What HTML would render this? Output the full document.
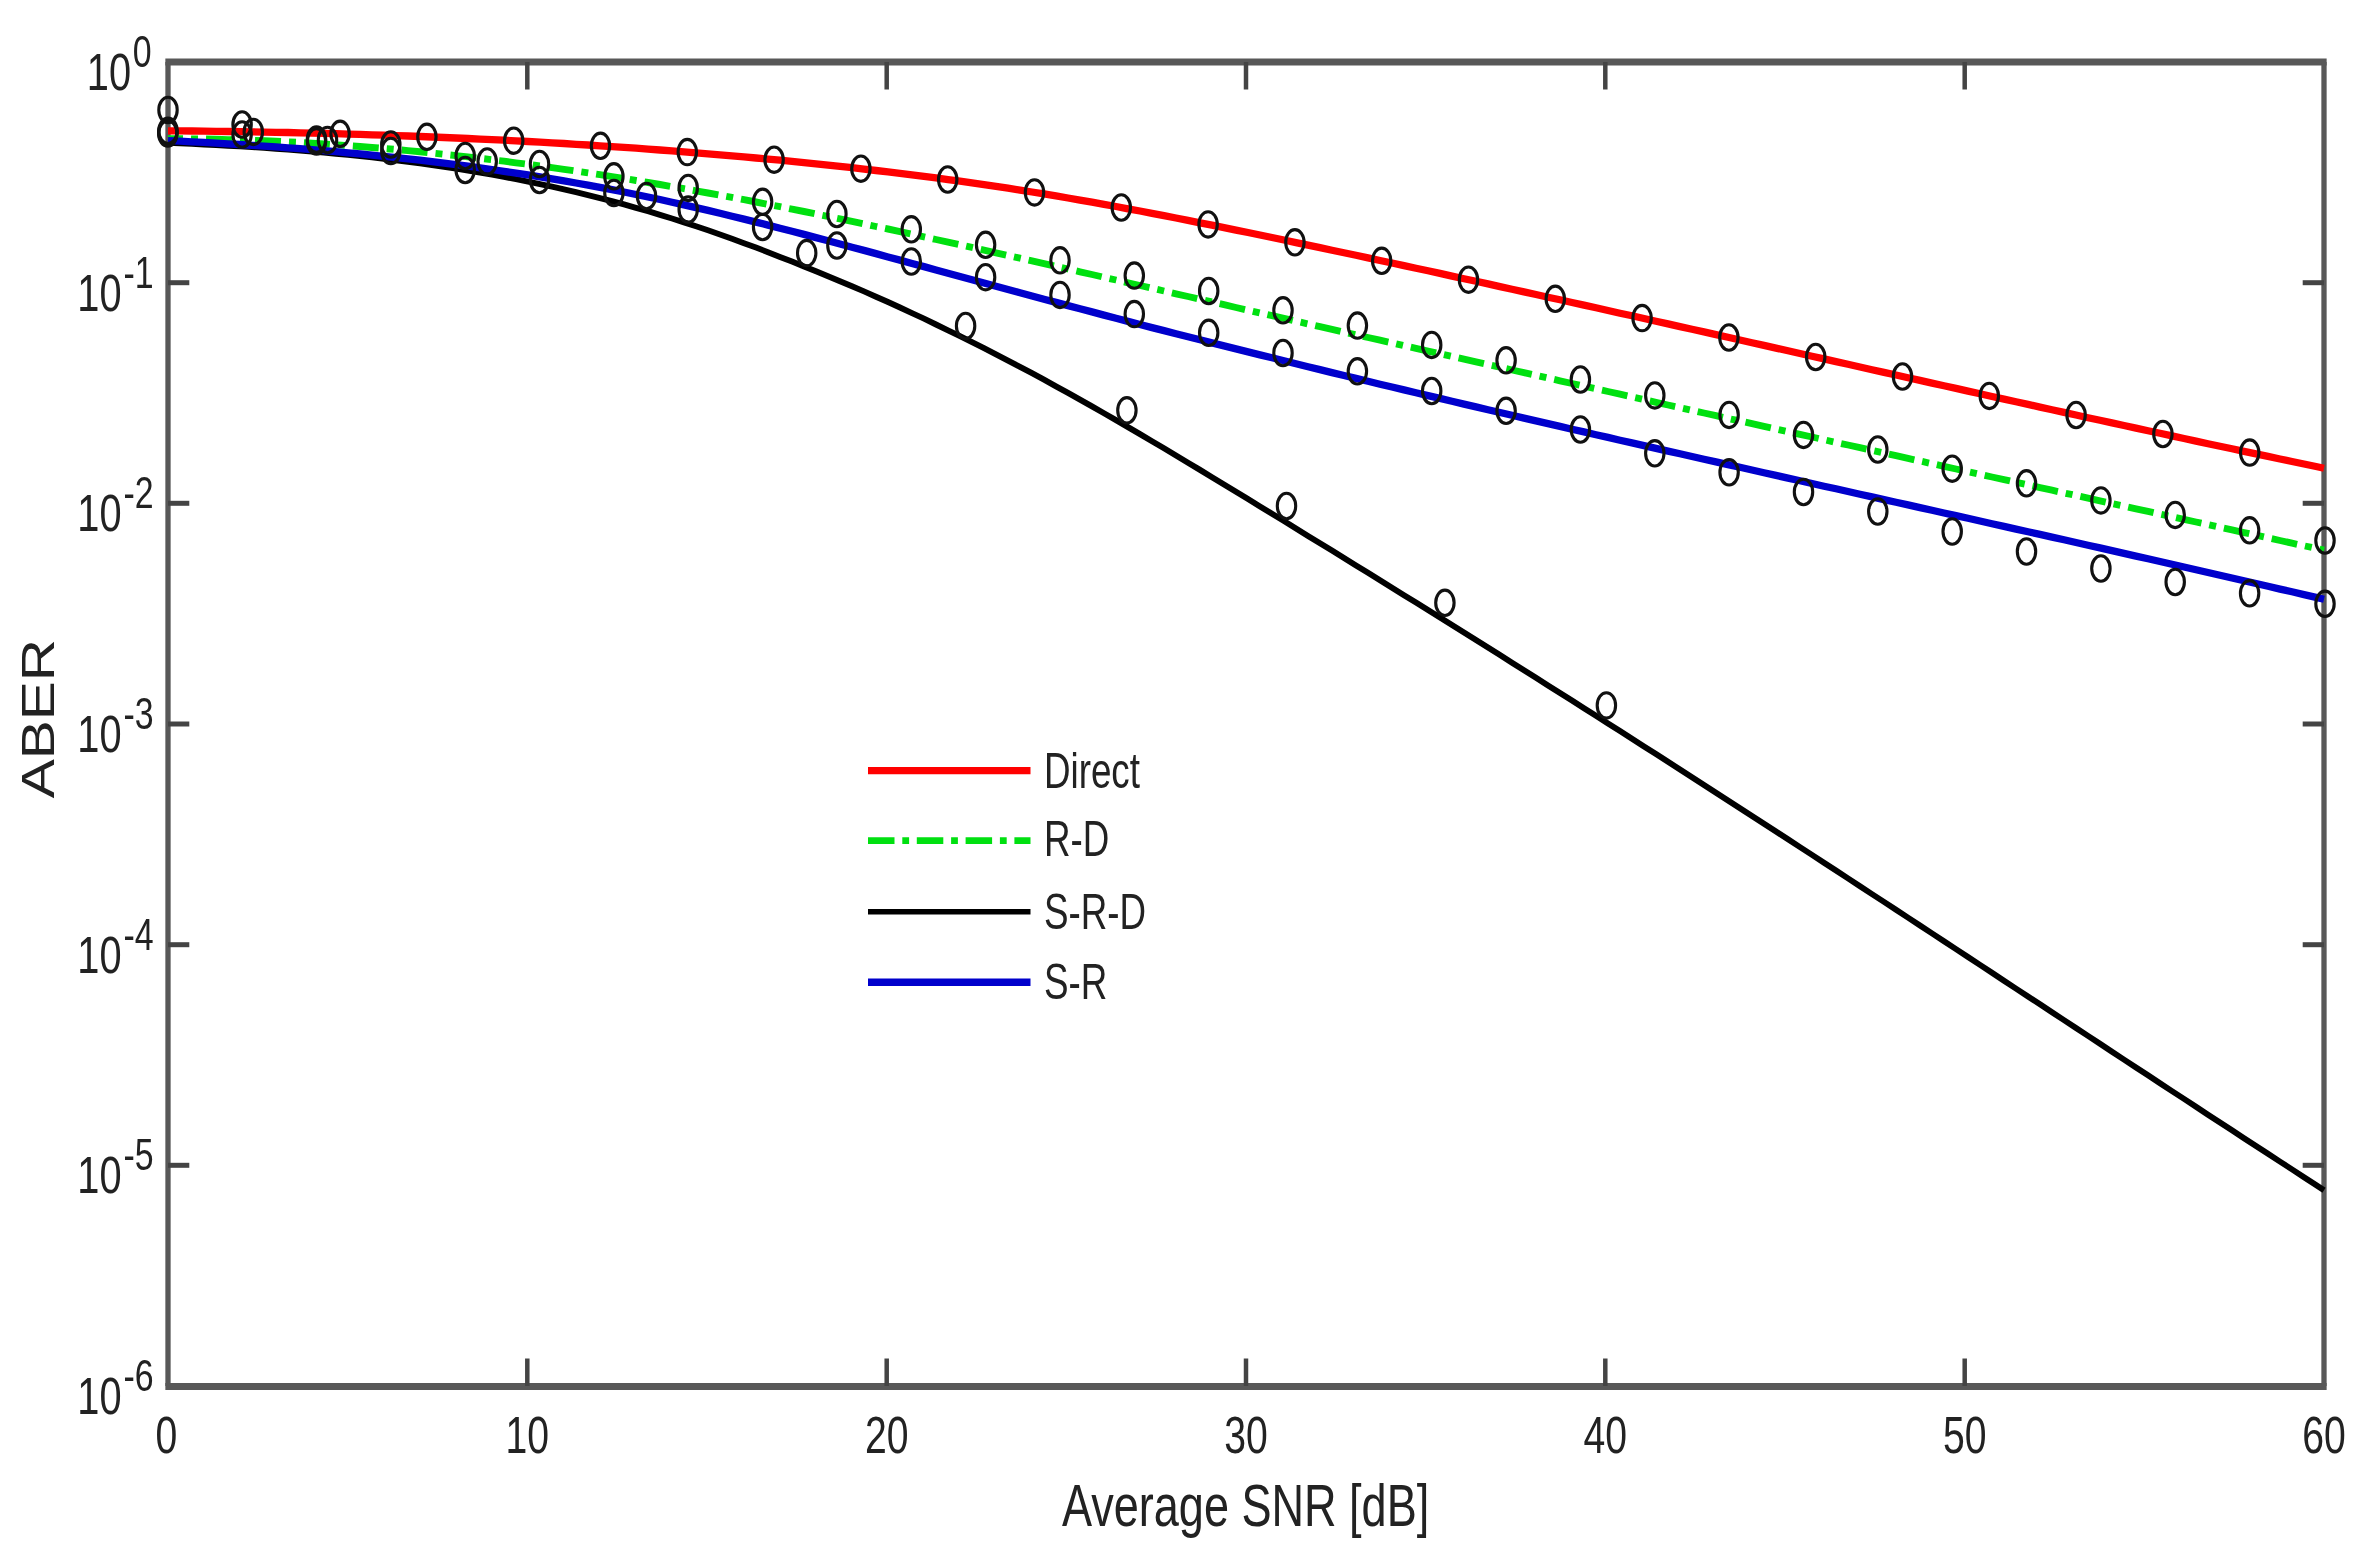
<!DOCTYPE html>
<html lang="en"><head><meta charset="utf-8"><title>ABER versus Average SNR</title>
<style>html,body{margin:0;padding:0;background:#fff;}body{width:2360px;height:1560px;overflow:hidden;}svg{display:block;filter:blur(0.6px);}text{font-family:"Liberation Sans",sans-serif;fill:#222222;}</style>
</head><body>
<svg width="2360" height="1560" viewBox="0 0 2360 1560">
<rect x="0" y="0" width="2360" height="1560" fill="#ffffff"/>
<g stroke="#585858" fill="none">
<line x1="165.35" y1="62.0" x2="2326.65" y2="62.0" stroke-width="7"/>
<line x1="165.35" y1="1386.4" x2="2326.65" y2="1386.4" stroke-width="7"/>
<line x1="168.0" y1="62.0" x2="168.0" y2="1386.0" stroke-width="5.3"/>
<line x1="2324.0" y1="62.0" x2="2324.0" y2="1386.0" stroke-width="5.3"/>
</g>
<g stroke="#444444" fill="none">
<line x1="527.3" y1="1386.0" x2="527.3" y2="1358.5" stroke-width="4.5"/>
<line x1="527.3" y1="62.0" x2="527.3" y2="89.5" stroke-width="4.5"/>
<line x1="886.7" y1="1386.0" x2="886.7" y2="1358.5" stroke-width="4.5"/>
<line x1="886.7" y1="62.0" x2="886.7" y2="89.5" stroke-width="4.5"/>
<line x1="1246.0" y1="1386.0" x2="1246.0" y2="1358.5" stroke-width="4.5"/>
<line x1="1246.0" y1="62.0" x2="1246.0" y2="89.5" stroke-width="4.5"/>
<line x1="1605.3" y1="1386.0" x2="1605.3" y2="1358.5" stroke-width="4.5"/>
<line x1="1605.3" y1="62.0" x2="1605.3" y2="89.5" stroke-width="4.5"/>
<line x1="1964.7" y1="1386.0" x2="1964.7" y2="1358.5" stroke-width="4.5"/>
<line x1="1964.7" y1="62.0" x2="1964.7" y2="89.5" stroke-width="4.5"/>
<line x1="168.0" y1="282.7" x2="189.3" y2="282.7" stroke-width="5"/>
<line x1="2324.0" y1="282.7" x2="2302.7" y2="282.7" stroke-width="5"/>
<line x1="168.0" y1="503.3" x2="189.3" y2="503.3" stroke-width="5"/>
<line x1="2324.0" y1="503.3" x2="2302.7" y2="503.3" stroke-width="5"/>
<line x1="168.0" y1="724.0" x2="189.3" y2="724.0" stroke-width="5"/>
<line x1="2324.0" y1="724.0" x2="2302.7" y2="724.0" stroke-width="5"/>
<line x1="168.0" y1="944.7" x2="189.3" y2="944.7" stroke-width="5"/>
<line x1="2324.0" y1="944.7" x2="2302.7" y2="944.7" stroke-width="5"/>
<line x1="168.0" y1="1165.3" x2="189.3" y2="1165.3" stroke-width="5"/>
<line x1="2324.0" y1="1165.3" x2="2302.7" y2="1165.3" stroke-width="5"/>
</g>
<g fill="none" stroke-linejoin="round">
<path d="M168.0,130.8 L180.0,130.9 L192.0,131.0 L204.0,131.1 L216.0,131.3 L228.0,131.5 L240.0,131.6 L252.0,131.8 L264.0,132.1 L276.0,132.3 L288.0,132.5 L300.0,132.8 L312.0,133.1 L324.0,133.4 L336.0,133.7 L348.0,134.1 L360.0,134.4 L372.0,134.8 L384.0,135.2 L396.0,135.6 L408.0,136.0 L420.0,136.5 L432.0,137.0 L444.0,137.5 L456.0,138.0 L468.0,138.5 L480.0,139.1 L492.0,139.6 L504.0,140.2 L516.0,140.8 L528.0,141.5 L540.0,142.1 L552.0,142.8 L564.0,143.5 L576.0,144.3 L588.0,145.0 L600.0,145.8 L612.0,146.6 L624.0,147.4 L636.0,148.2 L648.0,149.1 L660.0,150.0 L672.0,150.9 L684.0,151.8 L696.0,152.8 L708.0,153.8 L720.0,154.8 L732.0,155.8 L744.0,156.9 L756.0,158.0 L768.0,159.1 L780.0,160.2 L792.0,161.4 L804.0,162.6 L816.0,163.8 L828.0,165.1 L840.0,166.4 L852.0,167.7 L864.0,169.1 L876.0,170.5 L888.0,171.9 L900.0,173.3 L912.0,174.8 L924.0,176.4 L936.0,177.9 L948.0,179.6 L960.0,181.2 L972.0,182.9 L984.0,184.6 L996.0,186.4 L1008.0,188.2 L1020.0,190.1 L1032.0,192.0 L1044.0,193.9 L1056.0,195.9 L1068.0,198.0 L1080.0,200.1 L1092.0,202.2 L1104.0,204.3 L1116.0,206.5 L1128.0,208.8 L1140.0,211.0 L1152.0,213.3 L1164.0,215.6 L1176.0,218.0 L1188.0,220.4 L1200.0,222.8 L1212.0,225.2 L1224.0,227.6 L1236.0,230.1 L1248.0,232.5 L1260.0,235.0 L1272.0,237.5 L1284.0,240.0 L1296.0,242.6 L1308.0,245.1 L1320.0,247.6 L1332.0,250.2 L1344.0,252.7 L1356.0,255.3 L1368.0,257.9 L1380.0,260.5 L1392.0,263.0 L1404.0,265.6 L1416.0,268.2 L1428.0,270.8 L1440.0,273.4 L1452.0,276.1 L1464.0,278.7 L1476.0,281.3 L1488.0,283.9 L1500.0,286.6 L1512.0,289.2 L1524.0,291.9 L1536.0,294.5 L1548.0,297.2 L1560.0,299.8 L1572.0,302.5 L1584.0,305.1 L1596.0,307.8 L1608.0,310.5 L1620.0,313.2 L1632.0,315.8 L1644.0,318.5 L1656.0,321.2 L1668.0,323.9 L1680.0,326.6 L1692.0,329.3 L1704.0,331.9 L1716.0,334.6 L1728.0,337.3 L1740.0,340.0 L1752.0,342.7 L1764.0,345.4 L1776.0,348.1 L1788.0,350.8 L1800.0,353.5 L1812.0,356.2 L1824.0,358.9 L1836.0,361.6 L1848.0,364.3 L1860.0,367.0 L1872.0,369.7 L1884.0,372.4 L1896.0,375.0 L1908.0,377.7 L1920.0,380.4 L1932.0,383.1 L1944.0,385.8 L1956.0,388.4 L1968.0,391.1 L1980.0,393.8 L1992.0,396.5 L2004.0,399.1 L2016.0,401.8 L2028.0,404.4 L2040.0,407.1 L2052.0,409.7 L2064.0,412.4 L2076.0,415.0 L2088.0,417.7 L2100.0,420.3 L2112.0,422.9 L2124.0,425.5 L2136.0,428.1 L2148.0,430.7 L2160.0,433.3 L2172.0,435.9 L2184.0,438.5 L2196.0,441.1 L2208.0,443.7 L2220.0,446.2 L2232.0,448.8 L2244.0,451.4 L2256.0,453.9 L2268.0,456.4 L2280.0,459.0 L2292.0,461.5 L2304.0,464.0 L2316.0,466.5 L2324.0,468.2" stroke="#ff0000" stroke-width="7.3"/>
<path d="M168.0,138.7 L180.0,138.7 L192.0,138.9 L204.0,139.0 L216.0,139.3 L228.0,139.6 L240.0,139.9 L252.0,140.3 L264.0,140.8 L276.0,141.3 L288.0,141.9 L300.0,142.5 L312.0,143.2 L324.0,144.0 L336.0,144.8 L348.0,145.6 L360.0,146.5 L372.0,147.5 L384.0,148.5 L396.0,149.5 L408.0,150.6 L420.0,151.8 L432.0,153.0 L444.0,154.3 L456.0,155.6 L468.0,156.9 L480.0,158.3 L492.0,159.7 L504.0,161.2 L516.0,162.8 L528.0,164.3 L540.0,166.0 L552.0,167.6 L564.0,169.3 L576.0,171.1 L588.0,172.9 L600.0,174.7 L612.0,176.6 L624.0,178.5 L636.0,180.5 L648.0,182.5 L660.0,184.5 L672.0,186.6 L684.0,188.7 L696.0,190.8 L708.0,193.0 L720.0,195.2 L732.0,197.4 L744.0,199.7 L756.0,202.0 L768.0,204.4 L780.0,206.7 L792.0,209.1 L804.0,211.5 L816.0,214.0 L828.0,216.4 L840.0,218.9 L852.0,221.4 L864.0,223.9 L876.0,226.5 L888.0,229.0 L900.0,231.6 L912.0,234.2 L924.0,236.8 L936.0,239.5 L948.0,242.1 L960.0,244.7 L972.0,247.4 L984.0,250.1 L996.0,252.8 L1008.0,255.5 L1020.0,258.2 L1032.0,260.9 L1044.0,263.6 L1056.0,266.3 L1068.0,269.0 L1080.0,271.8 L1092.0,274.5 L1104.0,277.3 L1116.0,280.0 L1128.0,282.8 L1140.0,285.5 L1152.0,288.3 L1164.0,291.0 L1176.0,293.8 L1188.0,296.5 L1200.0,299.3 L1212.0,302.0 L1224.0,304.7 L1236.0,307.5 L1248.0,310.2 L1260.0,313.0 L1272.0,315.7 L1284.0,318.4 L1296.0,321.2 L1308.0,323.9 L1320.0,326.6 L1332.0,329.3 L1344.0,332.1 L1356.0,334.8 L1368.0,337.5 L1380.0,340.2 L1392.0,342.9 L1404.0,345.7 L1416.0,348.4 L1428.0,351.1 L1440.0,353.8 L1452.0,356.5 L1464.0,359.2 L1476.0,361.9 L1488.0,364.6 L1500.0,367.3 L1512.0,370.0 L1524.0,372.7 L1536.0,375.4 L1548.0,378.1 L1560.0,380.8 L1572.0,383.5 L1584.0,386.2 L1596.0,388.9 L1608.0,391.5 L1620.0,394.2 L1632.0,396.9 L1644.0,399.6 L1656.0,402.3 L1668.0,405.0 L1680.0,407.6 L1692.0,410.3 L1704.0,413.0 L1716.0,415.7 L1728.0,418.4 L1740.0,421.0 L1752.0,423.7 L1764.0,426.4 L1776.0,429.0 L1788.0,431.7 L1800.0,434.4 L1812.0,437.0 L1824.0,439.7 L1836.0,442.4 L1848.0,445.0 L1860.0,447.7 L1872.0,450.4 L1884.0,453.0 L1896.0,455.7 L1908.0,458.4 L1920.0,461.0 L1932.0,463.7 L1944.0,466.3 L1956.0,469.0 L1968.0,471.6 L1980.0,474.3 L1992.0,477.0 L2004.0,479.6 L2016.0,482.3 L2028.0,484.9 L2040.0,487.6 L2052.0,490.2 L2064.0,492.9 L2076.0,495.5 L2088.0,498.2 L2100.0,500.8 L2112.0,503.5 L2124.0,506.1 L2136.0,508.8 L2148.0,511.4 L2160.0,514.1 L2172.0,516.7 L2184.0,519.4 L2196.0,522.0 L2208.0,524.6 L2220.0,527.3 L2232.0,529.9 L2244.0,532.6 L2256.0,535.2 L2268.0,537.9 L2280.0,540.5 L2292.0,543.2 L2304.0,545.8 L2316.0,548.4 L2324.0,550.2" stroke="#00e010" stroke-width="6.9" stroke-dasharray="26 8 7 8" stroke-dashoffset="11"/>
<path d="M168.0,142.9 L180.0,143.4 L192.0,143.9 L204.0,144.5 L216.0,145.1 L228.0,145.7 L240.0,146.4 L252.0,147.1 L264.0,147.9 L276.0,148.7 L288.0,149.6 L300.0,150.6 L312.0,151.6 L324.0,152.6 L336.0,153.7 L348.0,154.9 L360.0,156.1 L372.0,157.4 L384.0,158.8 L396.0,160.3 L408.0,161.8 L420.0,163.4 L432.0,165.1 L444.0,166.8 L456.0,168.7 L468.0,170.6 L480.0,172.6 L492.0,174.7 L504.0,176.9 L516.0,179.2 L528.0,181.6 L540.0,184.1 L552.0,186.7 L564.0,189.4 L576.0,192.2 L588.0,195.1 L600.0,198.1 L612.0,201.2 L624.0,204.4 L636.0,207.8 L648.0,211.2 L660.0,214.8 L672.0,218.5 L684.0,222.4 L696.0,226.3 L708.0,230.3 L720.0,234.5 L732.0,238.8 L744.0,243.2 L756.0,247.6 L768.0,252.2 L780.0,256.9 L792.0,261.6 L804.0,266.4 L816.0,271.3 L828.0,276.2 L840.0,281.2 L852.0,286.3 L864.0,291.4 L876.0,296.7 L888.0,302.0 L900.0,307.5 L912.0,313.1 L924.0,318.7 L936.0,324.5 L948.0,330.3 L960.0,336.2 L972.0,342.2 L984.0,348.2 L996.0,354.4 L1008.0,360.6 L1020.0,366.9 L1032.0,373.2 L1044.0,379.7 L1056.0,386.3 L1068.0,392.9 L1080.0,399.6 L1092.0,406.4 L1104.0,413.2 L1116.0,420.1 L1128.0,427.1 L1140.0,434.1 L1152.0,441.2 L1164.0,448.3 L1176.0,455.5 L1188.0,462.7 L1200.0,469.9 L1212.0,477.2 L1224.0,484.5 L1236.0,491.8 L1248.0,499.1 L1260.0,506.4 L1272.0,513.8 L1284.0,521.1 L1296.0,528.5 L1308.0,535.9 L1320.0,543.2 L1332.0,550.6 L1344.0,558.0 L1356.0,565.4 L1368.0,572.8 L1380.0,580.3 L1392.0,587.7 L1404.0,595.2 L1416.0,602.6 L1428.0,610.1 L1440.0,617.6 L1452.0,625.1 L1464.0,632.6 L1476.0,640.1 L1488.0,647.6 L1500.0,655.1 L1512.0,662.7 L1524.0,670.2 L1536.0,677.8 L1548.0,685.4 L1560.0,693.0 L1572.0,700.6 L1584.0,708.2 L1596.0,715.8 L1608.0,723.5 L1620.0,731.1 L1632.0,738.8 L1644.0,746.4 L1656.0,754.1 L1668.0,761.8 L1680.0,769.5 L1692.0,777.2 L1704.0,784.9 L1716.0,792.7 L1728.0,800.4 L1740.0,808.2 L1752.0,815.9 L1764.0,823.7 L1776.0,831.5 L1788.0,839.3 L1800.0,847.1 L1812.0,854.9 L1824.0,862.7 L1836.0,870.5 L1848.0,878.4 L1860.0,886.2 L1872.0,894.1 L1884.0,901.9 L1896.0,909.8 L1908.0,917.6 L1920.0,925.5 L1932.0,933.4 L1944.0,941.2 L1956.0,949.1 L1968.0,957.0 L1980.0,964.9 L1992.0,972.8 L2004.0,980.7 L2016.0,988.6 L2028.0,996.5 L2040.0,1004.3 L2052.0,1012.2 L2064.0,1020.1 L2076.0,1028.0 L2088.0,1035.9 L2100.0,1043.8 L2112.0,1051.7 L2124.0,1059.6 L2136.0,1067.5 L2148.0,1075.3 L2160.0,1083.2 L2172.0,1091.1 L2184.0,1098.9 L2196.0,1106.8 L2208.0,1114.7 L2220.0,1122.5 L2232.0,1130.3 L2244.0,1138.2 L2256.0,1146.0 L2268.0,1153.8 L2280.0,1161.6 L2292.0,1169.4 L2304.0,1177.2 L2316.0,1185.0 L2324.0,1190.2" stroke="#000000" stroke-width="5.9"/>
<path d="M168.0,140.6 L180.0,141.2 L192.0,141.8 L204.0,142.4 L216.0,143.1 L228.0,143.8 L240.0,144.5 L252.0,145.3 L264.0,146.1 L276.0,146.9 L288.0,147.8 L300.0,148.7 L312.0,149.6 L324.0,150.6 L336.0,151.7 L348.0,152.8 L360.0,153.9 L372.0,155.1 L384.0,156.3 L396.0,157.6 L408.0,158.9 L420.0,160.2 L432.0,161.7 L444.0,163.1 L456.0,164.6 L468.0,166.2 L480.0,167.8 L492.0,169.5 L504.0,171.3 L516.0,173.1 L528.0,174.9 L540.0,176.8 L552.0,178.8 L564.0,180.9 L576.0,183.0 L588.0,185.1 L600.0,187.4 L612.0,189.7 L624.0,192.0 L636.0,194.5 L648.0,197.0 L660.0,199.5 L672.0,202.2 L684.0,204.9 L696.0,207.6 L708.0,210.4 L720.0,213.3 L732.0,216.2 L744.0,219.1 L756.0,222.1 L768.0,225.1 L780.0,228.2 L792.0,231.3 L804.0,234.4 L816.0,237.6 L828.0,240.8 L840.0,244.0 L852.0,247.2 L864.0,250.4 L876.0,253.6 L888.0,256.9 L900.0,260.1 L912.0,263.4 L924.0,266.6 L936.0,269.9 L948.0,273.2 L960.0,276.5 L972.0,279.7 L984.0,283.0 L996.0,286.2 L1008.0,289.5 L1020.0,292.7 L1032.0,296.0 L1044.0,299.2 L1056.0,302.4 L1068.0,305.6 L1080.0,308.8 L1092.0,311.9 L1104.0,315.1 L1116.0,318.2 L1128.0,321.4 L1140.0,324.5 L1152.0,327.6 L1164.0,330.6 L1176.0,333.7 L1188.0,336.8 L1200.0,339.8 L1212.0,342.9 L1224.0,345.9 L1236.0,348.9 L1248.0,351.9 L1260.0,354.9 L1272.0,357.8 L1284.0,360.8 L1296.0,363.8 L1308.0,366.7 L1320.0,369.6 L1332.0,372.6 L1344.0,375.5 L1356.0,378.4 L1368.0,381.3 L1380.0,384.2 L1392.0,387.0 L1404.0,389.9 L1416.0,392.7 L1428.0,395.6 L1440.0,398.4 L1452.0,401.3 L1464.0,404.1 L1476.0,406.9 L1488.0,409.7 L1500.0,412.5 L1512.0,415.3 L1524.0,418.1 L1536.0,420.9 L1548.0,423.6 L1560.0,426.4 L1572.0,429.2 L1584.0,431.9 L1596.0,434.7 L1608.0,437.4 L1620.0,440.2 L1632.0,442.9 L1644.0,445.6 L1656.0,448.4 L1668.0,451.1 L1680.0,453.8 L1692.0,456.5 L1704.0,459.2 L1716.0,461.9 L1728.0,464.6 L1740.0,467.3 L1752.0,470.0 L1764.0,472.7 L1776.0,475.4 L1788.0,478.1 L1800.0,480.8 L1812.0,483.5 L1824.0,486.2 L1836.0,488.8 L1848.0,491.5 L1860.0,494.2 L1872.0,496.9 L1884.0,499.6 L1896.0,502.2 L1908.0,504.9 L1920.0,507.6 L1932.0,510.3 L1944.0,513.0 L1956.0,515.6 L1968.0,518.3 L1980.0,521.0 L1992.0,523.7 L2004.0,526.4 L2016.0,529.1 L2028.0,531.8 L2040.0,534.4 L2052.0,537.1 L2064.0,539.8 L2076.0,542.5 L2088.0,545.2 L2100.0,547.9 L2112.0,550.6 L2124.0,553.4 L2136.0,556.1 L2148.0,558.8 L2160.0,561.5 L2172.0,564.3 L2184.0,567.0 L2196.0,569.7 L2208.0,572.5 L2220.0,575.2 L2232.0,578.0 L2244.0,580.7 L2256.0,583.5 L2268.0,586.3 L2280.0,589.1 L2292.0,591.8 L2304.0,594.6 L2316.0,597.4 L2324.0,599.3" stroke="#0000cc" stroke-width="7.3"/>
</g>
<g fill="none" stroke="#111111" stroke-width="3.1">
<ellipse cx="168.0" cy="130.8" rx="9.2" ry="12.7"/>
<ellipse cx="253.3" cy="131.9" rx="9.2" ry="12.7"/>
<ellipse cx="340.1" cy="133.8" rx="9.2" ry="12.7"/>
<ellipse cx="426.9" cy="136.8" rx="9.2" ry="12.7"/>
<ellipse cx="513.7" cy="140.7" rx="9.2" ry="12.7"/>
<ellipse cx="600.5" cy="145.8" rx="9.2" ry="12.7"/>
<ellipse cx="687.3" cy="152.1" rx="9.2" ry="12.7"/>
<ellipse cx="774.1" cy="159.7" rx="9.2" ry="12.7"/>
<ellipse cx="860.9" cy="168.7" rx="9.2" ry="12.7"/>
<ellipse cx="947.7" cy="179.5" rx="9.2" ry="12.7"/>
<ellipse cx="1034.5" cy="192.4" rx="9.2" ry="12.7"/>
<ellipse cx="1121.3" cy="207.5" rx="9.2" ry="12.7"/>
<ellipse cx="1208.1" cy="224.4" rx="9.2" ry="12.7"/>
<ellipse cx="1294.9" cy="242.3" rx="9.2" ry="12.7"/>
<ellipse cx="1381.7" cy="260.8" rx="9.2" ry="12.7"/>
<ellipse cx="1468.5" cy="279.7" rx="9.2" ry="12.7"/>
<ellipse cx="1555.3" cy="298.8" rx="9.2" ry="12.7"/>
<ellipse cx="1642.1" cy="318.1" rx="9.2" ry="12.7"/>
<ellipse cx="1728.9" cy="337.5" rx="9.2" ry="12.7"/>
<ellipse cx="1815.7" cy="357.0" rx="9.2" ry="12.7"/>
<ellipse cx="1902.5" cy="376.5" rx="9.2" ry="12.7"/>
<ellipse cx="1989.3" cy="395.9" rx="9.2" ry="12.7"/>
<ellipse cx="2076.1" cy="415.0" rx="9.2" ry="12.7"/>
<ellipse cx="2162.9" cy="434.0" rx="9.2" ry="12.7"/>
<ellipse cx="2249.7" cy="452.6" rx="9.2" ry="12.7"/>
<ellipse cx="167.8" cy="132.5" rx="9.2" ry="12.7"/>
<ellipse cx="167.8" cy="133.5" rx="9.2" ry="12.7"/>
<ellipse cx="242.1" cy="124.5" rx="9.2" ry="12.7"/>
<ellipse cx="242.1" cy="134.5" rx="9.2" ry="12.7"/>
<ellipse cx="316.5" cy="139.5" rx="9.2" ry="12.7"/>
<ellipse cx="316.5" cy="141.5" rx="9.2" ry="12.7"/>
<ellipse cx="390.8" cy="144.5" rx="9.2" ry="12.7"/>
<ellipse cx="390.8" cy="151.0" rx="9.2" ry="12.7"/>
<ellipse cx="465.2" cy="156.0" rx="9.2" ry="12.7"/>
<ellipse cx="465.2" cy="170.0" rx="9.2" ry="12.7"/>
<ellipse cx="539.5" cy="164.0" rx="9.2" ry="12.7"/>
<ellipse cx="539.5" cy="180.0" rx="9.2" ry="12.7"/>
<ellipse cx="613.9" cy="176.3" rx="9.2" ry="12.7"/>
<ellipse cx="613.9" cy="193.0" rx="9.2" ry="12.7"/>
<ellipse cx="688.2" cy="187.9" rx="9.2" ry="12.7"/>
<ellipse cx="688.2" cy="209.5" rx="9.2" ry="12.7"/>
<ellipse cx="762.6" cy="201.8" rx="9.2" ry="12.7"/>
<ellipse cx="762.6" cy="227.0" rx="9.2" ry="12.7"/>
<ellipse cx="836.9" cy="214.0" rx="9.2" ry="12.7"/>
<ellipse cx="836.9" cy="245.5" rx="9.2" ry="12.7"/>
<ellipse cx="911.3" cy="229.3" rx="9.2" ry="12.7"/>
<ellipse cx="911.3" cy="261.5" rx="9.2" ry="12.7"/>
<ellipse cx="985.6" cy="244.8" rx="9.2" ry="12.7"/>
<ellipse cx="985.6" cy="277.2" rx="9.2" ry="12.7"/>
<ellipse cx="1060.0" cy="260.3" rx="9.2" ry="12.7"/>
<ellipse cx="1060.0" cy="294.9" rx="9.2" ry="12.7"/>
<ellipse cx="1134.3" cy="275.6" rx="9.2" ry="12.7"/>
<ellipse cx="1134.3" cy="314.1" rx="9.2" ry="12.7"/>
<ellipse cx="1208.7" cy="291.0" rx="9.2" ry="12.7"/>
<ellipse cx="1208.7" cy="332.8" rx="9.2" ry="12.7"/>
<ellipse cx="1283.0" cy="310.3" rx="9.2" ry="12.7"/>
<ellipse cx="1283.0" cy="353.0" rx="9.2" ry="12.7"/>
<ellipse cx="1357.4" cy="325.6" rx="9.2" ry="12.7"/>
<ellipse cx="1357.4" cy="371.3" rx="9.2" ry="12.7"/>
<ellipse cx="1431.7" cy="344.9" rx="9.2" ry="12.7"/>
<ellipse cx="1431.7" cy="391.0" rx="9.2" ry="12.7"/>
<ellipse cx="1506.1" cy="360.3" rx="9.2" ry="12.7"/>
<ellipse cx="1506.1" cy="410.8" rx="9.2" ry="12.7"/>
<ellipse cx="1580.4" cy="379.5" rx="9.2" ry="12.7"/>
<ellipse cx="1580.4" cy="429.5" rx="9.2" ry="12.7"/>
<ellipse cx="1654.8" cy="395.4" rx="9.2" ry="12.7"/>
<ellipse cx="1654.8" cy="453.3" rx="9.2" ry="12.7"/>
<ellipse cx="1729.1" cy="414.9" rx="9.2" ry="12.7"/>
<ellipse cx="1729.1" cy="472.3" rx="9.2" ry="12.7"/>
<ellipse cx="1803.5" cy="434.9" rx="9.2" ry="12.7"/>
<ellipse cx="1803.5" cy="492.0" rx="9.2" ry="12.7"/>
<ellipse cx="1877.8" cy="449.5" rx="9.2" ry="12.7"/>
<ellipse cx="1877.8" cy="511.5" rx="9.2" ry="12.7"/>
<ellipse cx="1952.2" cy="468.7" rx="9.2" ry="12.7"/>
<ellipse cx="1952.2" cy="531.5" rx="9.2" ry="12.7"/>
<ellipse cx="2026.5" cy="483.3" rx="9.2" ry="12.7"/>
<ellipse cx="2026.5" cy="551.5" rx="9.2" ry="12.7"/>
<ellipse cx="2100.9" cy="500.4" rx="9.2" ry="12.7"/>
<ellipse cx="2100.9" cy="568.5" rx="9.2" ry="12.7"/>
<ellipse cx="2175.2" cy="514.9" rx="9.2" ry="12.7"/>
<ellipse cx="2175.2" cy="582.0" rx="9.2" ry="12.7"/>
<ellipse cx="2249.6" cy="530.3" rx="9.2" ry="12.7"/>
<ellipse cx="2249.6" cy="593.3" rx="9.2" ry="12.7"/>
<ellipse cx="2325.0" cy="540.5" rx="9.2" ry="12.7"/>
<ellipse cx="2325.0" cy="603.8" rx="9.2" ry="12.7"/>
<ellipse cx="168.0" cy="110.0" rx="9.2" ry="12.7"/>
<ellipse cx="327.5" cy="140.0" rx="9.2" ry="12.7"/>
<ellipse cx="487.2" cy="161.5" rx="9.2" ry="12.7"/>
<ellipse cx="646.5" cy="196.0" rx="9.2" ry="12.7"/>
<ellipse cx="806.7" cy="253.1" rx="9.2" ry="12.7"/>
<ellipse cx="965.6" cy="326.0" rx="9.2" ry="12.7"/>
<ellipse cx="1126.9" cy="410.3" rx="9.2" ry="12.7"/>
<ellipse cx="1286.5" cy="506.0" rx="9.2" ry="12.7"/>
<ellipse cx="1444.9" cy="602.8" rx="9.2" ry="12.7"/>
<ellipse cx="1606.4" cy="705.4" rx="9.2" ry="12.7"/>
</g>
<text transform="translate(166.5,1452.5) scale(0.768,1)" font-size="51" text-anchor="middle">0</text>
<text transform="translate(527.3,1452.5) scale(0.768,1)" font-size="51" text-anchor="middle">10</text>
<text transform="translate(886.7,1452.5) scale(0.768,1)" font-size="51" text-anchor="middle">20</text>
<text transform="translate(1246.0,1452.5) scale(0.768,1)" font-size="51" text-anchor="middle">30</text>
<text transform="translate(1605.3,1452.5) scale(0.768,1)" font-size="51" text-anchor="middle">40</text>
<text transform="translate(1964.7,1452.5) scale(0.768,1)" font-size="51" text-anchor="middle">50</text>
<text transform="translate(2324.0,1452.5) scale(0.768,1)" font-size="51" text-anchor="middle">60</text>
<text transform="translate(151.5,66.8) scale(0.77,1)" font-size="44" text-anchor="end">0</text>
<text transform="translate(131.0,89.8) scale(0.78,1)" font-size="51" text-anchor="end">10</text>
<text transform="translate(153.5,287.5) scale(0.77,1)" font-size="44" text-anchor="end">-1</text>
<text transform="translate(121.5,310.5) scale(0.78,1)" font-size="51" text-anchor="end">10</text>
<text transform="translate(153.5,508.1) scale(0.77,1)" font-size="44" text-anchor="end">-2</text>
<text transform="translate(121.5,531.1) scale(0.78,1)" font-size="51" text-anchor="end">10</text>
<text transform="translate(153.5,728.8) scale(0.77,1)" font-size="44" text-anchor="end">-3</text>
<text transform="translate(121.5,751.8) scale(0.78,1)" font-size="51" text-anchor="end">10</text>
<text transform="translate(153.5,949.5) scale(0.77,1)" font-size="44" text-anchor="end">-4</text>
<text transform="translate(121.5,972.5) scale(0.78,1)" font-size="51" text-anchor="end">10</text>
<text transform="translate(153.5,1170.1) scale(0.77,1)" font-size="44" text-anchor="end">-5</text>
<text transform="translate(121.5,1193.1) scale(0.78,1)" font-size="51" text-anchor="end">10</text>
<text transform="translate(153.5,1390.8) scale(0.77,1)" font-size="44" text-anchor="end">-6</text>
<text transform="translate(121.5,1413.8) scale(0.78,1)" font-size="51" text-anchor="end">10</text>
<text transform="translate(1245.6,1526.0) scale(0.751,1)" font-size="60" text-anchor="middle">Average SNR [dB]</text>
<text transform="translate(54.3,718.6) scale(0.80,1) rotate(-90)" font-size="58.6" text-anchor="middle">ABER</text>
<g fill="none">
<line x1="868" y1="770.6" x2="1030.5" y2="770.6" stroke="#ff0000" stroke-width="7.4"/>
<line x1="868" y1="840.6" x2="1030.5" y2="840.6" stroke="#00e010" stroke-width="6.9" stroke-dasharray="26.5 7.8 6.8 7.7"/>
<line x1="868" y1="911.8" x2="1030.5" y2="911.8" stroke="#000000" stroke-width="5.5"/>
<line x1="868" y1="982.2" x2="1030.5" y2="982.2" stroke="#0000cc" stroke-width="7.4"/>
</g>
<text transform="translate(1044.0,787.7) scale(0.75,1)" font-size="49" text-anchor="start">Direct</text>
<text transform="translate(1044.0,856.1) scale(0.75,1)" font-size="49" text-anchor="start">R-D</text>
<text transform="translate(1044.0,928.8) scale(0.75,1)" font-size="49" text-anchor="start">S-R-D</text>
<text transform="translate(1044.0,999.2) scale(0.75,1)" font-size="49" text-anchor="start">S-R</text>
</svg>
</body></html>
